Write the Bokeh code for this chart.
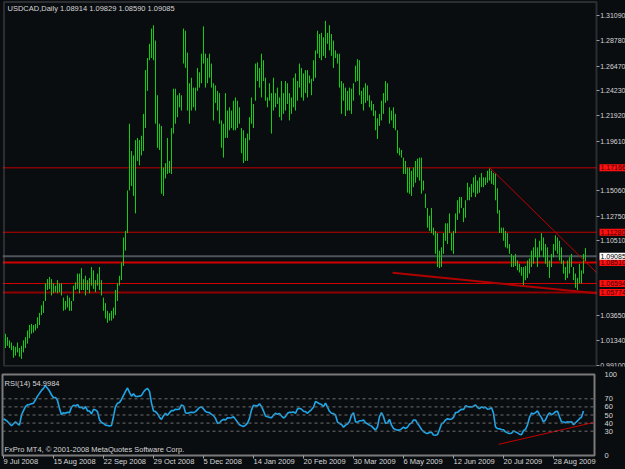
from bokeh.plotting import figure
from bokeh.models import (Range1d, FixedTicker, Span, Label, ColumnDataSource,
                          NumeralTickFormatter, LinearAxis, BoxAnnotation)
from bokeh.layouts import column
from bokeh.embed import file_html
from bokeh.resources import INLINE

# ---------------- data ----------------
title_text = "USDCAD,Daily  1.08914 1.09829 1.08590 1.09085"
last_close = 1.09085

highs = [
    1.020, 1.017, 1.014, 1.012, 1.009, 1.008, 1.012, 1.007, 1.009, 1.014,
    1.017, 1.023, 1.028, 1.029, 1.028, 1.029, 1.035, 1.039, 1.046, 1.050,
    1.066, 1.070, 1.072, 1.070, 1.066, 1.064, 1.069, 1.066, 1.066, 1.053,
    1.050, 1.055, 1.053, 1.050, 1.064, 1.067, 1.075, 1.075, 1.080, 1.070,
    1.073, 1.069, 1.071, 1.081, 1.078, 1.069, 1.075, 1.081, 1.069, 1.053,
    1.048, 1.041, 1.039, 1.041, 1.044, 1.060, 1.066, 1.073, 1.085, 1.108,
    1.114, 1.151, 1.212, 1.187, 1.183, 1.197, 1.199, 1.197, 1.201, 1.221,
    1.261, 1.272, 1.285, 1.299, 1.302, 1.288, 1.238, 1.212, 1.210, 1.172,
    1.176, 1.199, 1.178, 1.208, 1.244, 1.244, 1.238, 1.240, 1.238, 1.299,
    1.297, 1.277, 1.249, 1.254, 1.245, 1.245, 1.263, 1.259, 1.276, 1.301,
    1.276, 1.272, 1.276, 1.267, 1.249, 1.247, 1.242, 1.240, 1.215, 1.212,
    1.240, 1.224, 1.227, 1.224, 1.233, 1.236, 1.233, 1.227, 1.208, 1.206,
    1.199, 1.203, 1.218, 1.236, 1.230, 1.267, 1.268, 1.263, 1.276, 1.270,
    1.254, 1.236, 1.249, 1.240, 1.254, 1.240, 1.245, 1.236, 1.251, 1.240,
    1.251, 1.249, 1.240, 1.236, 1.254, 1.258, 1.251, 1.267, 1.263, 1.258,
    1.261, 1.261, 1.256, 1.253, 1.270, 1.279, 1.297, 1.294, 1.295, 1.291,
    1.306, 1.295, 1.302, 1.294, 1.288, 1.279, 1.276, 1.276, 1.251, 1.249,
    1.245, 1.242, 1.245, 1.244, 1.249, 1.265, 1.271, 1.270, 1.242, 1.245,
    1.249, 1.247, 1.238, 1.233, 1.230, 1.224, 1.217, 1.221, 1.233, 1.240,
    1.251, 1.249, 1.227, 1.224, 1.227, 1.221, 1.206, 1.190, 1.188, 1.181,
    1.178, 1.172, 1.172, 1.169, 1.172, 1.178, 1.180, 1.181, 1.181, 1.160,
    1.148, 1.135, 1.128, 1.135, 1.117, 1.114, 1.112, 1.096, 1.099, 1.112,
    1.121, 1.121, 1.130, 1.112, 1.114, 1.130, 1.142, 1.145, 1.145, 1.135,
    1.142, 1.158, 1.154, 1.157, 1.163, 1.165, 1.160, 1.163, 1.167, 1.163,
    1.163, 1.169, 1.171, 1.169, 1.167, 1.167, 1.153, 1.133, 1.117, 1.117,
    1.114, 1.112, 1.102, 1.093, 1.091, 1.093, 1.087, 1.084, 1.081, 1.081,
    1.082, 1.087, 1.089, 1.096, 1.099, 1.107, 1.099, 1.105, 1.112, 1.108,
    1.102, 1.099, 1.087, 1.093, 1.102, 1.110, 1.108, 1.105, 1.099, 1.087,
    1.081, 1.087, 1.090, 1.093, 1.081, 1.075, 1.071, 1.084, 1.078, 1.093,
    1.09829,
]

lows = [
    1.007, 1.009, 1.007, 1.005, 0.998, 1.000, 1.003, 0.999, 0.997, 1.003,
    1.007, 1.011, 1.016, 1.020, 1.021, 1.023, 1.025, 1.028, 1.037, 1.039,
    1.050, 1.060, 1.061, 1.055, 1.057, 1.058, 1.057, 1.058, 1.055, 1.041,
    1.042, 1.044, 1.041, 1.041, 1.050, 1.060, 1.061, 1.057, 1.060, 1.060,
    1.055, 1.060, 1.057, 1.064, 1.061, 1.058, 1.064, 1.060, 1.055, 1.041,
    1.034, 1.030, 1.032, 1.032, 1.034, 1.037, 1.050, 1.064, 1.069, 1.082,
    1.096, 1.112, 1.151, 1.155, 1.146, 1.130, 1.178, 1.174, 1.183, 1.187,
    1.208, 1.242, 1.270, 1.272, 1.270, 1.212, 1.190, 1.188, 1.148, 1.146,
    1.162, 1.166, 1.167, 1.166, 1.203, 1.212, 1.218, 1.227, 1.224, 1.267,
    1.263, 1.224, 1.212, 1.224, 1.227, 1.224, 1.242, 1.245, 1.249, 1.267,
    1.245, 1.249, 1.254, 1.245, 1.215, 1.231, 1.224, 1.212, 1.190, 1.181,
    1.199, 1.199, 1.206, 1.208, 1.206, 1.206, 1.208, 1.212, 1.185, 1.176,
    1.178, 1.178, 1.197, 1.212, 1.208, 1.233, 1.251, 1.245, 1.236, 1.251,
    1.233, 1.227, 1.233, 1.203, 1.224, 1.227, 1.230, 1.218, 1.215, 1.221,
    1.224, 1.230, 1.215, 1.221, 1.227, 1.224, 1.233, 1.245, 1.236, 1.233,
    1.240, 1.236, 1.249, 1.238, 1.251, 1.254, 1.276, 1.272, 1.270, 1.274,
    1.272, 1.285, 1.279, 1.274, 1.263, 1.272, 1.267, 1.245, 1.221, 1.233,
    1.219, 1.224, 1.224, 1.221, 1.233, 1.250, 1.251, 1.238, 1.230, 1.224,
    1.231, 1.233, 1.227, 1.224, 1.219, 1.206, 1.198, 1.210, 1.215, 1.221,
    1.231, 1.233, 1.212, 1.215, 1.208, 1.206, 1.185, 1.183, 1.181, 1.166,
    1.166, 1.149, 1.148, 1.146, 1.154, 1.158, 1.163, 1.160, 1.148, 1.151,
    1.135, 1.117, 1.114, 1.112, 1.110, 1.093, 1.081, 1.080, 1.081, 1.093,
    1.105, 1.102, 1.112, 1.096, 1.093, 1.112, 1.124, 1.130, 1.135, 1.122,
    1.126, 1.142, 1.142, 1.145, 1.149, 1.145, 1.148, 1.149, 1.154, 1.154,
    1.156, 1.158, 1.160, 1.157, 1.156, 1.142, 1.130, 1.112, 1.112, 1.105,
    1.099, 1.098, 1.093, 1.081, 1.081, 1.082, 1.078, 1.076, 1.073, 1.064,
    1.069, 1.071, 1.075, 1.081, 1.084, 1.090, 1.081, 1.090, 1.096, 1.090,
    1.084, 1.081, 1.071, 1.081, 1.090, 1.096, 1.093, 1.087, 1.084, 1.075,
    1.069, 1.071, 1.075, 1.081, 1.069, 1.062, 1.060, 1.066, 1.066, 1.075,
    1.08590,
]

rsi = [
    45.4, 43.8, 42.1, 39.2, 36.7, 39.2, 41.7, 39.2, 37.5, 50.0,
    55.4, 60.4, 62.5, 62.9, 63.8, 64.6, 68.8, 73.3, 76.7, 80.4,
    82.9, 86.3, 82.9, 79.6, 75.0, 71.3, 71.7, 67.9, 58.0, 50.4,
    52.9, 52.1, 53.3, 52.9, 59.6, 62.1, 61.3, 62.9, 59.2, 59.6,
    57.5, 60.4, 55.0, 55.0, 51.3, 57.1, 56.3, 54.2, 44.2, 40.8,
    39.6, 37.5, 37.1, 36.3, 37.1, 47.9, 60.4, 64.6, 65.4, 69.2,
    74.2, 79.2, 83.3, 77.9, 73.3, 76.3, 72.9, 72.9, 73.3, 74.2,
    78.3, 81.3, 82.9, 79.2, 64.6, 55.0, 54.2, 51.7, 47.1, 44.6,
    49.2, 52.1, 49.6, 52.9, 55.4, 55.4, 57.1, 56.7, 57.5, 62.5,
    61.3, 52.9, 52.1, 52.9, 53.3, 52.9, 54.2, 56.7, 59.2, 60.0,
    57.5, 54.2, 53.3, 52.9, 50.8, 49.2, 45.8, 39.6, 40.4, 43.3,
    44.6, 43.8, 46.7, 46.3, 46.7, 47.9, 44.6, 41.3, 37.9, 36.7,
    35.8, 37.5, 40.0, 45.8, 56.3, 62.1, 61.3, 61.3, 63.8, 60.4,
    55.0, 48.8, 47.9, 47.1, 46.7, 49.6, 52.1, 50.8, 51.7, 48.8,
    46.3, 47.9, 52.1, 53.3, 53.3, 53.8, 52.1, 57.5, 58.3, 57.1,
    54.6, 54.2, 52.1, 54.6, 56.7, 59.6, 66.7, 65.4, 63.8, 62.9,
    60.4, 64.6, 59.6, 54.6, 52.1, 51.7, 50.0, 41.3, 39.6, 38.3,
    35.0, 37.5, 38.8, 42.1, 50.0, 52.9, 41.7, 40.8, 42.9, 42.9,
    43.8, 40.4, 39.2, 37.5, 36.3, 33.8, 31.3, 35.4, 47.9, 52.9,
    47.9, 39.6, 40.4, 44.6, 37.5, 33.3, 32.1, 31.3, 31.3, 32.9,
    35.0, 33.3, 35.0, 38.8, 40.0, 43.8, 43.8, 39.6, 36.3, 32.1,
    29.6, 27.9, 27.1, 28.3, 28.8, 25.4, 25.0, 25.8, 32.1, 38.8,
    40.4, 43.8, 45.4, 44.6, 45.0, 47.1, 52.9, 53.3, 55.4, 57.1,
    56.7, 61.3, 60.4, 60.0, 60.0, 60.8, 62.5, 59.2, 57.9, 60.0,
    58.8, 59.6, 57.1, 57.5, 59.2, 52.1, 35.4, 33.3, 32.9, 32.1,
    31.7, 29.2, 27.9, 27.1, 27.5, 30.4, 29.2, 27.9, 26.3, 25.8,
    30.8, 32.1, 37.9, 47.1, 52.5, 51.3, 52.9, 55.0, 50.4, 46.7,
    41.3, 43.8, 49.6, 52.5, 50.4, 51.7, 54.2, 54.6, 47.9, 41.7,
    41.3, 40.4, 41.7, 41.3, 41.7, 37.9, 40.4, 42.9, 45.4, 47.5,
    54.9984,
]

price_ticks = [1.31090, 1.28780, 1.26470, 1.24230, 1.21920, 1.19610,
               1.15060, 1.12750, 1.10510, 1.03650, 1.01340, 0.99100]
level_prices = [1.17166, 1.11280, 1.08510, 1.06594, 1.05774]
level_widths = [1, 1, 2, 1, 2]
level_colors = ["#c00000", "#c00000", "#d00000", "#d00000", "#900000"]

date_bars = [0, 25, 50, 75, 100, 125, 150, 175, 200, 225, 250, 275]
date_labels = ["9 Jul 2008", "15 Aug 2008", "22 Sep 2008", "29 Oct 2008",
               "5 Dec 2008", "14 Jan 2009", "20 Feb 2009", "30 Mar 2009",
               "6 May 2009", "12 Jun 2009", "20 Jul 2009", "28 Aug 2009"]

rsi_levels = [30, 40, 50, 60, 70]
rsi_ticks = [0, 30, 40, 50, 60, 70, 100]

# trend lines: (bar index, value) pairs
down_trend_x = [242, 295.5]
down_trend_y = [1.1720, 1.0760]
low_trend_x = [193.5, 295.5]
low_trend_y = [1.0757, 1.0570]
rsi_trend_x = [247.6, 295.5]
rsi_trend_y = [13.8, 41.0]

# ---------------- styling ----------------
BG = "#0a0d10"
FRAME = "#7a7a7a"
TXT = "#d6d6d6"
FONT = "Liberation Sans"
FS = "7.5px"
AXFS = "7px"
CHART_END = 295.5          # right edge of the chart area (bar units)

n = min(len(highs), len(lows), len(rsi))
idx = list(range(n))
src = ColumnDataSource(dict(x=idx, high=highs[:n], low=lows[:n], rsi=rsi[:n]))

has_padding = "padding" in Label.properties()

# ---------------- main price panel ----------------
main = figure(frame_width=625, frame_height=366,
              x_range=Range1d(-1.5, 311.0),
              y_range=Range1d(0.99009, 1.32461),
              output_backend="svg", toolbar_location=None,
              x_axis_location=None, y_axis_location=None,
              min_border_left=0, min_border_top=0, min_border_bottom=4,
              min_border_right=0)
main.background_fill_color = BG
main.border_fill_color = BG
main.outline_line_color = None
main.grid.visible = False

# price scale: axis pinned at the chart's right edge, labels to its right
ya = LinearAxis(fixed_location=CHART_END)
ya.ticker = FixedTicker(ticks=price_ticks)
ya.formatter = NumeralTickFormatter(format="0.00000")
ya.axis_line_color = None
ya.major_tick_line_color = "#a0a0a0"
ya.major_tick_out = 0
ya.major_tick_in = 3
ya.minor_tick_line_color = None
ya.major_label_standoff = -29
ya.major_label_text_color = TXT
ya.major_label_text_font = FONT
ya.major_label_text_font_size = AXFS
main.add_layout(ya, "left")

# chart frame
main.add_layout(BoxAnnotation(left=-0.75, right=CHART_END, top=1.32324, bottom=0.99055,
                              fill_alpha=0, line_color=FRAME, line_width=2))

for lp, lw, lc in zip(level_prices, level_widths, level_colors):
    main.segment(x0=-1.5, y0=lp, x1=CHART_END, y1=lp, line_color=lc, line_width=lw)
main.segment(x0=-1.5, y0=last_close, x1=CHART_END, y1=last_close,
             line_color="#4c535a", line_width=2)

main.segment(x0="x", y0="low", x1="x", y1="high", source=src,
             line_color="#10d010", line_width=1)

main.line(down_trend_x, down_trend_y, line_color="#c00000", line_width=1)
main.line(low_trend_x, low_trend_y, line_color="#b00000", line_width=2)

main.add_layout(Label(x=5, y=358, x_units="screen", y_units="screen", text=title_text,
                      text_font=FONT, text_font_size=FS, text_color=TXT,
                      text_baseline="middle"))

def price_label(val, bg, fg):
    kw = dict(x=297.0, y=val, x_units="data", y_units="data",
              text=f"{val:.5f}", text_font=FONT, text_font_size=AXFS,
              text_color=fg, text_baseline="middle", text_align="left",
              background_fill_color=bg)
    if has_padding:
        kw["padding"] = 1
    return Label(**kw)

for lp in level_prices:
    main.add_layout(price_label(lp, "#ff1010", "#3a0000"))
main.add_layout(price_label(last_close, "#ffffff", "#000000"))

# ---------------- RSI panel ----------------
rp = figure(frame_width=592, frame_height=81, x_range=Range1d(-0.5, 295.5),
            y_range=Range1d(0, 100),
            output_backend="svg", toolbar_location=None,
            y_axis_location="right",
            min_border_left=2, min_border_top=4, min_border_bottom=14,
            min_border_right=31)
rp.background_fill_color = BG
rp.border_fill_color = BG
rp.outline_line_color = FRAME
rp.outline_line_width = 2
rp.grid.visible = False

for lv in rsi_levels:
    rp.add_layout(Span(location=lv, dimension="width", line_color="#6e6e6e",
                       line_width=1, line_dash="3 3"))

rp.line("x", "rsi", source=src, line_color="#1ea6e8", line_width=1.6)
rp.line(rsi_trend_x, rsi_trend_y, line_color="#c80000", line_width=1)

ra = rp.yaxis[0]
ra.ticker = FixedTicker(ticks=rsi_ticks)
ra.axis_line_color = None
ra.major_tick_line_color = None
ra.minor_tick_line_color = None
ra.major_label_standoff = 4
ra.major_label_text_color = TXT
ra.major_label_text_font = FONT
ra.major_label_text_font_size = FS

xa = rp.xaxis[0]
xa.ticker = FixedTicker(ticks=date_bars)
xa.major_label_overrides = {b: l for b, l in zip(date_bars, date_labels)}
xa.axis_line_color = None
xa.major_tick_line_color = "#a0a0a0"
xa.major_tick_out = 3
xa.major_tick_in = 0
xa.minor_tick_line_color = None
xa.major_label_orientation = -1e-6   # numeric orientation -> left-aligned labels
xa.major_label_standoff = 3
xa.major_label_text_color = TXT
xa.major_label_text_font = FONT
xa.major_label_text_font_size = FS

rp.add_layout(Label(x=2, y=72, x_units="screen", y_units="screen",
                    text=f"RSI(14) {rsi[-1]:.4f}", text_font=FONT,
                    text_font_size=FS, text_color=TXT, text_baseline="middle"))
rp.add_layout(Label(x=2, y=6, x_units="screen", y_units="screen",
                    text="FxPro MT4, © 2001-2008 MetaQuotes Software Corp.",
                    text_font=FONT, text_font_size=FS, text_color=TXT,
                    text_baseline="middle"))

layout = column(main, rp, spacing=0)
layout.background = BG

open("out.html", "w").write(file_html(layout, INLINE))
